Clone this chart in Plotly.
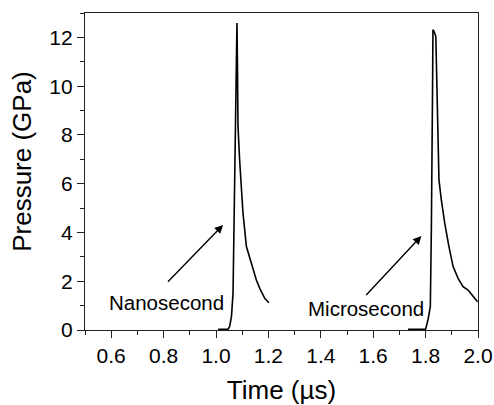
import plotly.graph_objects as go

# Nanosecond pulse (time in µs, pressure in GPa)
nano_time = [1.008, 1.046, 1.052, 1.059, 1.065, 1.068, 1.071, 1.073, 1.076, 1.080,
             1.082, 1.084, 1.090, 1.097, 1.103, 1.116, 1.129, 1.141, 1.154, 1.167,
             1.186, 1.202]
nano_pressure = [0.03, 0.03, 0.14, 0.55, 1.5, 3.69, 6.16, 9.0, 11.5, 12.59,
                 10.8, 8.35, 7.0, 5.6, 4.79, 3.42, 2.94, 2.60, 2.05, 1.71,
                 1.30, 1.12]

# Microsecond pulse
micro_time = [1.733, 1.800, 1.809, 1.818, 1.822, 1.826, 1.827, 1.828, 1.832, 1.839,
              1.844, 1.851, 1.860, 1.873, 1.889, 1.905, 1.924, 1.943, 1.962, 1.981,
              1.998]
micro_pressure = [0.03, 0.03, 0.41, 0.96, 4.11, 7.5, 10.5, 12.31, 12.25, 12.04,
                  9.03, 6.16, 5.34, 4.38, 3.42, 2.60, 2.12, 1.78, 1.64, 1.37,
                  1.16]

# Labels with arrow (text position, arrow tail, arrow head)
labels = ["Nanosecond", "Microsecond"]
label_x = [0.811, 1.571]
label_y = [1.13, 0.90]
arrow_tail_x = [0.811, 1.568]
arrow_tail_y = [1.92, 1.37]
arrow_head_x = [1.027, 1.784]
arrow_head_y = [4.31, 3.86]

x_ticks = [0.6, 0.8, 1.0, 1.2, 1.4, 1.6, 1.8, 2.0]
y_ticks = [0, 2, 4, 6, 8, 10, 12]

FONT = "Arial, 'Liberation Sans', sans-serif"

fig = go.Figure()
for t, p in [(nano_time, nano_pressure), (micro_time, micro_pressure)]:
    fig.add_trace(go.Scatter(x=t, y=p, mode="lines",
                             line=dict(color="black", width=1.6),
                             showlegend=False, hoverinfo="skip"))

for i, txt in enumerate(labels):
    fig.add_annotation(x=label_x[i], y=label_y[i], xref="x", yref="y", text=txt,
                       showarrow=False, font=dict(family=FONT, size=20.5, color="black"))
    fig.add_annotation(x=arrow_head_x[i], y=arrow_head_y[i], ax=arrow_tail_x[i], ay=arrow_tail_y[i],
                       xref="x", yref="y", axref="x", ayref="y", text="",
                       showarrow=True, arrowhead=2, arrowsize=1.2, arrowwidth=1.4,
                       arrowcolor="black")

fig.add_annotation(x=-0.162, y=0.5, xref="paper", yref="paper", text="Pressure (GPa)",
                   textangle=-90, showarrow=False, xanchor="center", yanchor="middle",
                   yshift=10, font=dict(family=FONT, size=26, color="black"))

axis_common = dict(showline=True, linecolor="#222", linewidth=1.3, mirror=True,
                   ticks="outside", ticklen=7, tickwidth=1.2, tickcolor="#222",
                   showgrid=False, zeroline=False, automargin=False,
                   tickfont=dict(family=FONT, size=21, color="black"))

fig.update_layout(
    width=494, height=405,
    margin=dict(l=85, r=16, t=13, b=75),
    paper_bgcolor="white", plot_bgcolor="white",
    xaxis=dict(range=[0.5, 2.0], tickvals=x_ticks, ticktext=[f"{v:.1f}" for v in x_ticks],
               minor=dict(ticks="outside", ticklen=4, tickwidth=1.2, tickcolor="#222", dtick=0.1, tick0=0.5),
               title=dict(text="Time (µs)", font=dict(family=FONT, size=26, color="black"), standoff=18),
               **axis_common),
    yaxis=dict(range=[0, 13], tickvals=y_ticks,
               minor=dict(ticks="outside", ticklen=4, tickwidth=1.2, tickcolor="#222", dtick=1, tick0=0),
               **axis_common),
)

fig.write_html("out.html", config={"displayModeBar": False},
               post_script="document.body.style.margin='0';")
